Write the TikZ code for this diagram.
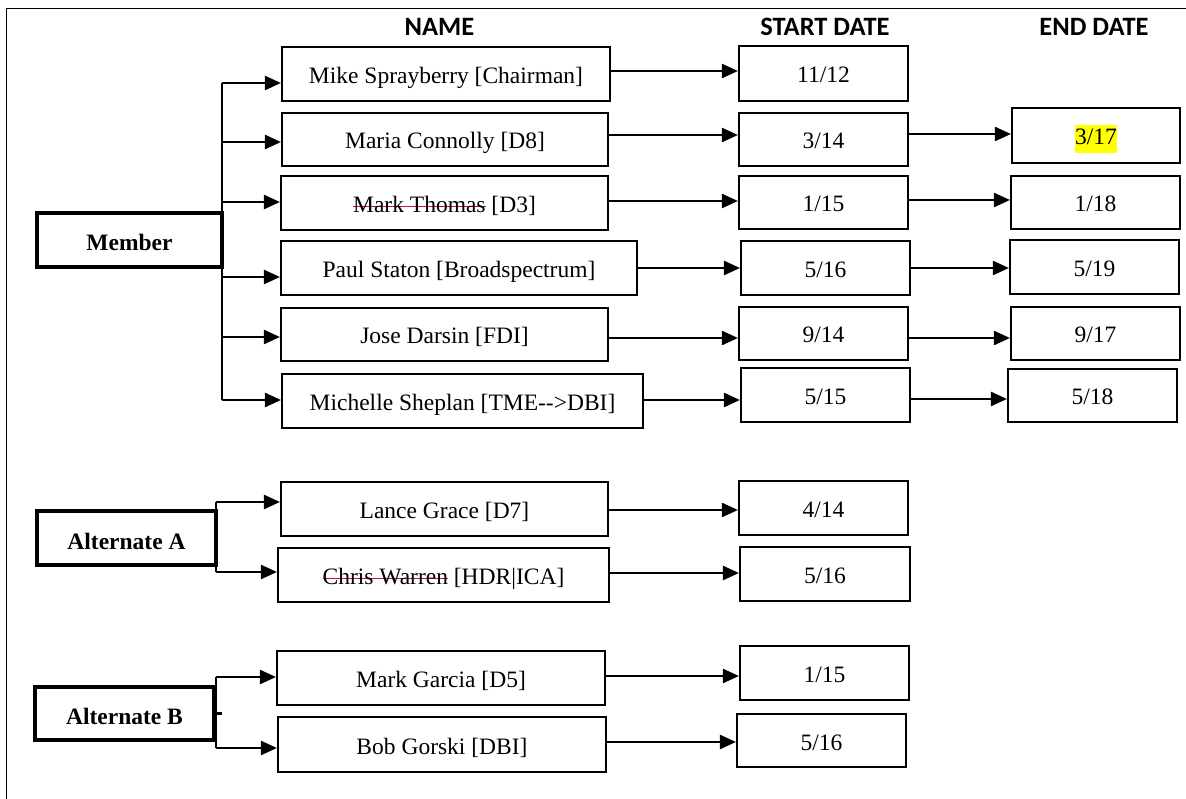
\documentclass[tikz,border=0pt]{standalone}
\usepackage{fontspec}
\setmainfont{Liberation Serif}
\newfontfamily\hdfont{Carlito}
\usetikzlibrary{arrows.meta,calc}
\definecolor{strk}{RGB}{192,22,60}
\definecolor{hl}{RGB}{255,255,0}
\setlength{\fboxsep}{0pt}
\newsavebox{\strkbox}
\newcommand{\struck}[1]{\sbox{\strkbox}{#1}\textcolor{strk}{\rlap{\rule[0.22em]{\wd\strkbox}{1.5pt}}\usebox{\strkbox}}}
\newcommand{\hlite}[1]{\colorbox{hl}{\strut #1}}
\tikzset{
  bodyfont/.style={font=\fontsize{23.5}{28}\selectfont},
  cell/.style={draw, line width=2.1pt, inner sep=0pt, bodyfont, align=center,
               text height=21pt, text depth=2pt},
  grpbox/.style={draw, line width=3.4pt, inner sep=0pt,
                 font=\fontsize{23.5}{28}\selectfont\bfseries,
                 text height=22pt, text depth=0pt},
  hdr/.style={font=\hdfont\bfseries\fontsize{26.5}{30}\selectfont, anchor=base, inner sep=0pt},
  conn/.style={line width=2.4pt},
  arr/.style={conn, -{Triangle[length=16pt,width=14pt]}},
  frame/.style={line width=1pt}
}
\begin{document}
\begin{tikzpicture}[x=1pt,y=-1pt]
\useasboundingbox (0,0) rectangle (1186,799);
\draw[frame] (6,799) -- (6,9) -- (1186,9);

% headers
\node[hdr] (hname) at (439.5,35.5) {NAME};
\node[hdr] (hstart) at (825,35.5) {START DATE};
\node[hdr] (hend) at (1094,35.5) {END DATE};

% group boxes
\node[grpbox, minimum width=185pt, minimum height=54pt] (gM) at (129.5,240) {Member};
\node[grpbox, minimum width=179pt, minimum height=54pt] (gA) at (126.5,538) {Alternate A};
\node[grpbox, minimum width=179pt, minimum height=53pt] (gB) at (124.5,713.5) {Alternate B};

% name boxes
\node[cell, minimum width=328pt, minimum height=54pt] (n1) at (446,74) {Mike Sprayberry [Chairman]};
\node[cell, minimum width=326pt, minimum height=53pt] (n2) at (445,139.5) {Maria Connolly [D8]};
\node[cell, minimum width=327pt, minimum height=54pt] (n3) at (444.5,203) {\struck{Mark Thomas} [D3]};
\node[cell, minimum width=356pt, minimum height=54pt] (n4) at (459,268) {Paul Staton [Broadspectrum]};
\node[cell, minimum width=327pt, minimum height=53pt] (n5) at (444.5,334.5) {Jose Darsin [FDI]};
\node[cell, minimum width=361pt, minimum height=54pt] (n6) at (462.5,401) {Michelle Sheplan [TME-{}-{}>DBI]};
\node[cell, minimum width=327pt, minimum height=54pt] (n7) at (444.5,509) {Lance Grace [D7]};
\node[cell, minimum width=331pt, minimum height=54pt] (n8) at (443.5,575) {\struck{Chris Warren} [HDR|ICA]};
\node[cell, minimum width=328pt, minimum height=54pt] (n9) at (441,678) {Mark Garcia [D5]};
\node[cell, minimum width=328pt, minimum height=55pt] (n10) at (442,744.5) {Bob Gorski [DBI]};

% start date boxes
\node[cell, minimum width=169pt, minimum height=55pt] (s1) at (823.5,73.5) {11/12};
\node[cell, minimum width=169pt, minimum height=53pt] (s2) at (823.5,139.5) {3/14};
\node[cell, minimum width=169pt, minimum height=53pt] (s3) at (823.5,202.5) {1/15};
\node[cell, minimum width=169pt, minimum height=54pt] (s4) at (825.5,268) {5/16};
\node[cell, minimum width=169pt, minimum height=53pt] (s5) at (823.5,333.5) {9/14};
\node[cell, minimum width=169pt, minimum height=54pt] (s6) at (825.5,395) {5/15};
\node[cell, minimum width=169pt, minimum height=54pt] (s7) at (823.5,508) {4/14};
\node[cell, minimum width=170pt, minimum height=54pt] (s8) at (825,574) {5/16};
\node[cell, minimum width=169pt, minimum height=54pt] (s9) at (824.5,673) {1/15};
\node[cell, minimum width=169pt, minimum height=53pt] (s10) at (821.5,740.5) {5/16};

% end date boxes
\node[cell, minimum width=168pt, minimum height=55pt] (e2) at (1096,135.5) {\hlite{3/17}};
\node[cell, minimum width=169pt, minimum height=53pt] (e3) at (1095.5,202.5) {1/18};
\node[cell, minimum width=169pt, minimum height=54pt] (e4) at (1094.5,267) {5/19};
\node[cell, minimum width=169pt, minimum height=53pt] (e5) at (1095.5,333.5) {9/17};
\node[cell, minimum width=169pt, minimum height=53pt] (e6) at (1092.5,395.5) {5/18};

% trunk coordinates
\coordinate (m1) at (222,83);
\coordinate (m2) at (222,142);
\coordinate (m3) at (222,202);
\coordinate (m4) at (222,277);
\coordinate (m5) at (222,337);
\coordinate (m6) at (222,400);
\coordinate (a1) at (216,502);
\coordinate (a2) at (216,572);
\coordinate (b1) at (216,677);
\coordinate (b2) at (216,748);

% trunks
\draw[conn] (m1) -- (m6);
\draw[conn] (a1) -- (a2);
\draw[conn] (b1) -- (b2);
\draw[conn] (gB.east) -- ++(6,0);

% branches
\draw[arr] (m1) -- (n1.west |- m1);
\draw[arr] (m2) -- (n2.west |- m2);
\draw[arr] (m3) -- (n3.west |- m3);
\draw[arr] (m4) -- (n4.west |- m4);
\draw[arr] (m5) -- (n5.west |- m5);
\draw[arr] (m6) -- (n6.west |- m6);
\draw[arr] (a1) -- (n7.west |- a1);
\draw[arr] (a2) -- (n8.west |- a2);
\draw[arr] (b1) -- (n9.west |- b1);
\draw[arr] (b2) -- (n10.west |- b2);

% name -> start
\coordinate (y1) at (0,71);
\coordinate (y2) at (0,135);
\coordinate (y3) at (0,201);
\coordinate (y4) at (0,268);
\coordinate (y5) at (0,338);
\coordinate (y6) at (0,400);
\coordinate (y7) at (0,510);
\coordinate (y8) at (0,573);
\coordinate (y9) at (0,676);
\coordinate (y10) at (0,742);
\draw[arr] (n1.east |- y1) -- (s1.west |- y1);
\draw[arr] (n2.east |- y2) -- (s2.west |- y2);
\draw[arr] (n3.east |- y3) -- (s3.west |- y3);
\draw[arr] (n4.east |- y4) -- (s4.west |- y4);
\draw[arr] (n5.east |- y5) -- (s5.west |- y5);
\draw[arr] (n6.east |- y6) -- (s6.west |- y6);
\draw[arr] (n7.east |- y7) -- (s7.west |- y7);
\draw[arr] (n8.east |- y8) -- (s8.west |- y8);
\draw[arr] (n9.east |- y9) -- (s9.west |- y9);
\draw[arr] (n10.east |- y10) -- (s10.west |- y10);

% start -> end
\coordinate (z2) at (0,134);
\coordinate (z3) at (0,200);
\coordinate (z4) at (0,268);
\coordinate (z5) at (0,338);
\coordinate (z6) at (0,399);
\draw[arr] (s2.east |- z2) -- (e2.west |- z2);
\draw[arr] (s3.east |- z3) -- (e3.west |- z3);
\draw[arr] (s4.east |- z4) -- (e4.west |- z4);
\draw[arr] (s5.east |- z5) -- (e5.west |- z5);
\draw[arr] (s6.east |- z6) -- (e6.west |- z6);
\end{tikzpicture}
\end{document}
